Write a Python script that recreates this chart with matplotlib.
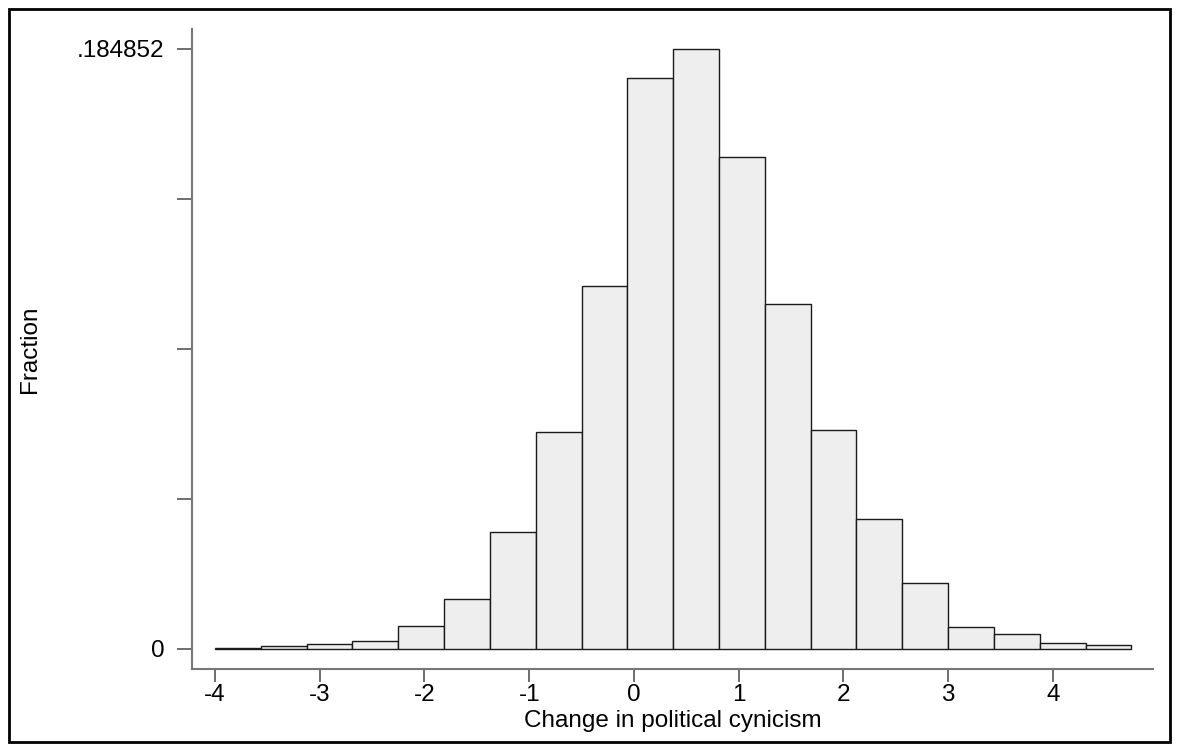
import matplotlib
matplotlib.use("Agg")
import matplotlib.pyplot as plt
from matplotlib.patches import Rectangle
import numpy as np

# Data: histogram of change in political cynicism (fraction per bin)
bin_start = -4.0
bin_width = 0.4375
fractions = [0.0003, 0.0007, 0.0014, 0.0024, 0.0070, 0.0154, 0.0361, 0.0667,
             0.1118, 0.1759, 0.184852, 0.1515, 0.1063, 0.0673, 0.0401, 0.0203,
             0.0066, 0.0044, 0.0017, 0.0010]
y_max_label = 0.184852
x_ticks = [-4, -3, -2, -1, 0, 1, 2, 3, 4]
x_label = "Change in political cynicism"
y_label = "Fraction"

plt.rcParams['font.family'] = ['Liberation Sans', 'DejaVu Sans']
FS = 17.5

fig = plt.figure(figsize=(11.79, 7.51), dpi=100)
ax = fig.add_axes([192/1179, 1-668.7/751, (1153-192)/1179, (668.7-29)/751])

edges = bin_start + bin_width*np.arange(len(fractions))
ax.bar(edges, fractions, width=bin_width, align='edge', color='#eeeeee',
       edgecolor='#1a1a1a', linewidth=1.0)

ax.set_xlim(-4.22, 4.957)
ax.set_ylim(-0.00617, 0.191)

yt = [0, y_max_label/4, y_max_label/2, 3*y_max_label/4, y_max_label]
ax.set_yticks(yt)
ax.set_yticklabels(['0', '', '', '', '.184852'])
ax.set_xticks(x_ticks)
ax.set_xticklabels([str(v) for v in x_ticks])

for s in ['top', 'right']:
    ax.spines[s].set_visible(False)
for s in ['left', 'bottom']:
    ax.spines[s].set_color('#777777')
    ax.spines[s].set_linewidth(1.5)

ax.tick_params(axis='y', length=11, width=1.2, color='#555555', labelsize=FS, pad=9)
ax.tick_params(axis='x', length=9.5, width=1.2, color='#555555', labelsize=FS, pad=1.5)

ax.set_xlabel(x_label, fontsize=FS, labelpad=3)
ax.set_ylabel(y_label, fontsize=FS)
ax.yaxis.label.set_verticalalignment('center')
ax.yaxis.set_label_coords(-(192-30)/961, 0.5)

fig.patches.append(Rectangle((8.7/1179, 8.7/751), (1179-17.4)/1179, (751-17.4)/751,
                             transform=fig.transFigure, fill=False,
                             edgecolor='black', linewidth=2))

fig.savefig("out.png", dpi=100, facecolor='white')
